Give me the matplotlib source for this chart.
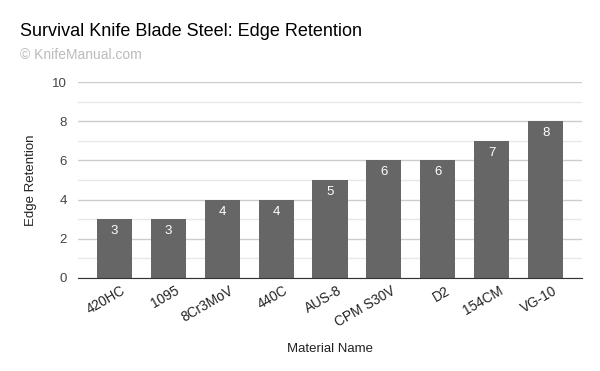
import matplotlib
matplotlib.use("Agg")
import matplotlib.pyplot as plt
import matplotlib.transforms as mtransforms
import numpy as np

plt.rcParams['font.family'] = ['Liberation Sans', 'DejaVu Sans']

materials = ["420HC", "1095", "8Cr3MoV", "440C", "AUS-8", "CPM S30V", "D2", "154CM", "VG-10"]
retention = [3, 3, 4, 4, 5, 6, 6, 7, 8]

fig = plt.figure(figsize=(6, 3.71), dpi=100)
ax = fig.add_axes([0.13, 0.2507, 0.84, 0.528])

x = np.arange(len(materials))
bars = ax.bar(x, retention, width=0.65, color="#666666", zorder=3)
for b, v in zip(bars, retention):
    ax.text(b.get_x() + b.get_width() / 2, v - 0.3, str(v), ha="center", va="top",
            color="white", fontsize=9.5, zorder=4)

ax.set_xlim(-0.67, len(materials) - 0.33)
ax.set_ylim(0, 10)
ax.set_yticks([0, 2, 4, 6, 8, 10])
ax.set_yticks([1, 3, 5, 7, 9], minor=True)
ax.grid(axis="y", which="major", color="#cccccc", linewidth=1, zorder=0)
ax.grid(axis="y", which="minor", color="#e8e8e8", linewidth=1, zorder=0)
ax.tick_params(axis="y", which="both", length=0, labelsize=9.5, labelcolor="#444444", pad=8)
ax.tick_params(axis="x", length=0, labelsize=9.8, labelcolor="#222222", pad=4)
ax.set_xticks(x)
ax.set_xticklabels(materials, rotation=30, ha="right", rotation_mode="anchor")
# nudge the rotated labels a little to the right, like the original
shift = mtransforms.ScaledTranslation(7 / 100, 0, fig.dpi_scale_trans)
for lbl in ax.get_xticklabels():
    lbl.set_transform(lbl.get_transform() + shift)
for s in ["top", "right", "left"]:
    ax.spines[s].set_visible(False)
ax.spines["bottom"].set_color("#333333")
ax.spines["bottom"].set_zorder(5)

ax.set_ylabel("Edge Retention", fontsize=9.5, color="#222222", labelpad=11)
ax.set_xlabel("Material Name", fontsize=9.5, color="#222222", labelpad=10)

fig.text(20 / 600, 1 - 32 / 371, "Survival Knife Blade Steel: Edge Retention", fontsize=13,
         color="#000000", va="center", ha="left")
fig.text(20 / 600, 1 - 55 / 371, "© KnifeManual.com", fontsize=10, color="#bbbbbb",
         va="center", ha="left")

fig.savefig("out.png", dpi=100)
